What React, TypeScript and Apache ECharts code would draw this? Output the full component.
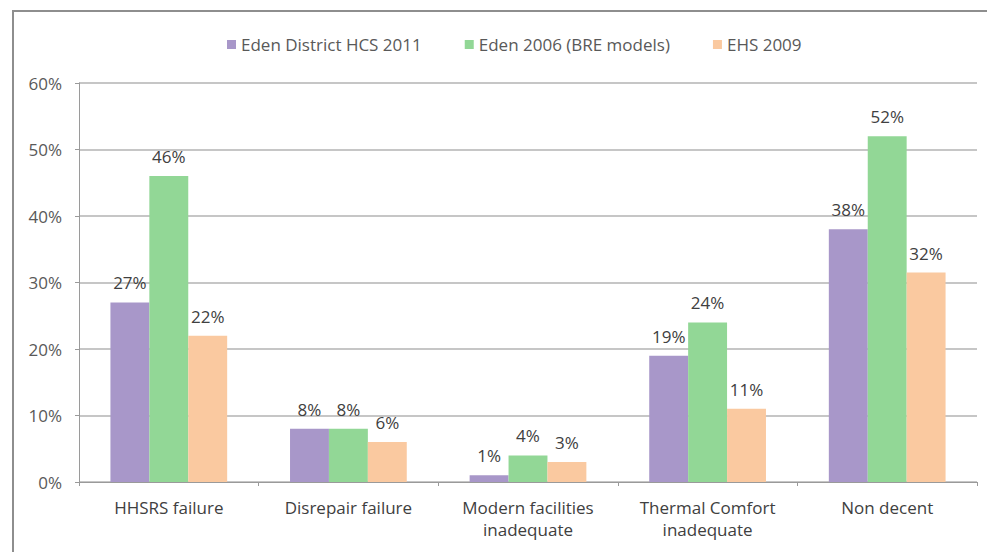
import React, { useEffect, useRef } from "react";
import * as echarts from "echarts";

const categories = [
  "HHSRS failure",
  "Disrepair failure",
  "Modern facilities\ninadequate",
  "Thermal Comfort\ninadequate",
  "Non decent",
];
const seriesNames = ["Eden District HCS 2011", "Eden 2006 (BRE models)", "EHS 2009"];
const edenHcs2011 = [27, 8, 1, 19, 38];
const eden2006Bre = [46, 8, 4, 24, 52];
const ehs2009 = [22, 6, 3, 11, 31.5];
const yTicks = [0, 10, 20, 30, 40, 50, 60];
const colors = ["#A897C9", "#92D796", "#FAC9A0"];

const FONT = "Open Sans";
const FS = 17;

export default function App() {
  const ref = useRef<HTMLDivElement>(null);
  useEffect(() => {
    if (!ref.current) return;
    const chart = echarts.init(ref.current, undefined, { renderer: "svg" });
    const data = [edenHcs2011, eden2006Bre, ehs2009];
    chart.setOption({
      animation: false,
      textStyle: { fontFamily: FONT },
      graphic: [
        {
          type: "rect",
          shape: { x: 13, y: 11, width: 1000, height: 600 },
          style: { fill: "none", stroke: "#8E8E8E", lineWidth: 2 },
          silent: true,
        },
      ],
      legend: {
        top: 31,
        left: 222,
        itemWidth: 9,
        itemHeight: 9,
        itemGap: 43,
        icon: "rect",
        textStyle: { fontFamily: FONT, fontSize: FS, color: "#595959" },
        data: seriesNames,
      },
      grid: { left: 79, right: 10, top: 83, bottom: 70, containLabel: false },
      xAxis: {
        type: "category",
        data: categories,
        axisLine: { lineStyle: { color: "#9A9A9A", width: 1 } },
        axisTick: { show: true, length: 4, lineStyle: { color: "#9A9A9A" } },
        axisLabel: {
          fontFamily: FONT,
          fontSize: FS,
          color: "#404040",
          margin: 14,
          lineHeight: 22,
        },
      },
      yAxis: {
        type: "value",
        min: 0,
        max: 60,
        interval: 10,
        axisLine: { show: true, lineStyle: { color: "#9A9A9A" } },
        axisTick: { show: true, length: 4, lineStyle: { color: "#9A9A9A" } },
        splitLine: { lineStyle: { color: "#B3B3B3", width: 1.5 } },
        axisLabel: {
          fontFamily: FONT,
          fontSize: FS,
          color: "#595959",
          margin: 17,
          formatter: (v: number) => (yTicks.includes(v) ? v + "%" : ""),
        },
      },
      series: seriesNames.map((name, i) => ({
        name,
        type: "bar",
        data: data[i],
        barGap: "0%",
        barCategoryGap: "35%",
        itemStyle: { color: colors[i] },
        label: {
          show: true,
          position: "top",
          distance: 11,
          fontFamily: FONT,
          fontSize: FS,
          color: "#404040",
          formatter: (p: any) => Math.round(p.value) + "%",
        },
      })),
    });
    return () => chart.dispose();
  }, []);
  return <div ref={ref} style={{ width: 987, height: 552, position: "absolute", left: 0, top: 0 }} />;
}
